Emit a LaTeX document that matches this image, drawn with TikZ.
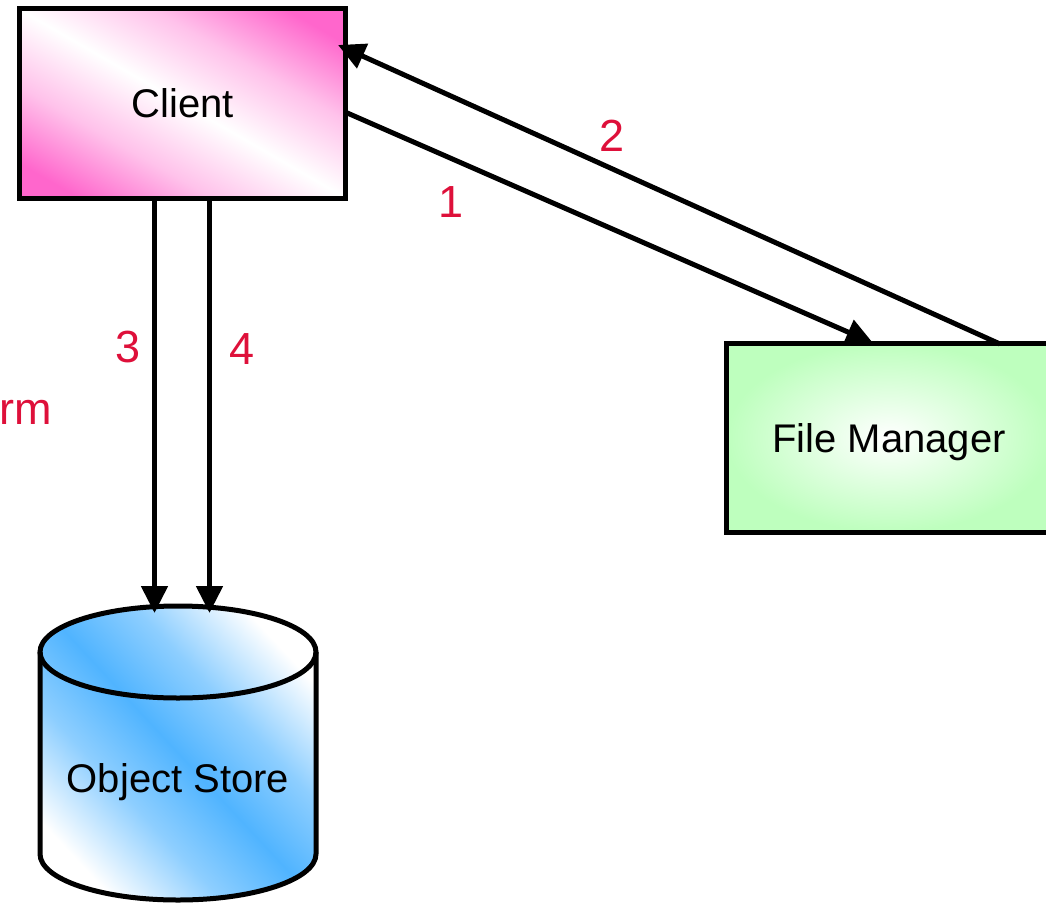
\documentclass[tikz,border=0pt]{standalone}
\usepackage{fontspec}
\setmainfont{Liberation Sans}
\usetikzlibrary{arrows.meta}

\definecolor{pinkc}{RGB}{255,102,204}
\definecolor{bluec}{RGB}{80,180,255}
\definecolor{greenc}{RGB}{190,255,190}
\definecolor{labelred}{RGB}{222,16,58}

% diagonal fills: pink corners with a white band, and the reverse in blue
\pgfdeclarehorizontalshading{pinkband}{100bp}{color(0bp)=(pinkc); color(22bp)=(pinkc); color(36bp)=(pinkc!40!white); color(50bp)=(white); color(64bp)=(pinkc!40!white); color(78bp)=(pinkc); color(100bp)=(pinkc)}
\pgfdeclarehorizontalshading{blueband}{100bp}{color(0bp)=(white); color(24bp)=(white); color(38bp)=(bluec!65!white); color(50bp)=(bluec); color(62bp)=(bluec!65!white); color(76bp)=(white); color(100bp)=(white)}

\tikzset{
  boxtext/.style={font=\fontsize{40}{48}\selectfont, text height=29pt, text depth=0pt, inner sep=0pt},
  clientbox/.style={boxtext, draw, line width=5pt, minimum width=326pt, minimum height=190pt,
    shading=pinkband, shading angle=60},
  fmbox/.style={boxtext, draw, line width=5pt, minimum width=326pt, minimum height=189pt,
    inner color=white, outer color=greenc},
  steplabel/.style={font=\fontsize{45}{54}\selectfont, text=labelred, anchor=base, inner sep=0pt},
  flow/.style={line width=5pt, -{Triangle[length=27pt, width=26pt]}},
}

\begin{document}
\begin{tikzpicture}[x=1pt, y=-1pt]
  \useasboundingbox (0,0) rectangle (1046,904);
  \clip (0,0) rectangle (1046,904);

  % the two boxes
  \node[clientbox] (client) at (182.5,103.5) {Client};
  \node[fmbox] (fm) at (889,437.5) {File Manager};

  % object store cylinder
  \path[shading=blueband, shading angle=43]
    (40,652) -- (40,854) arc[start angle=180, end angle=360, x radius=138pt, y radius=46pt]
    -- (316,652) arc[start angle=0, end angle=180, x radius=138pt, y radius=46pt] -- cycle;
  \draw[line width=5pt]
    (40,652) -- (40,854) arc[start angle=180, end angle=360, x radius=138pt, y radius=46pt]
    -- (316,652);
  \draw[line width=5pt] (178,652) ellipse[x radius=138pt, y radius=46pt];
  \node[boxtext] (store) at (178,777.5) {Object Store};

  % connector end points
  \coordinate (c1) at (345,112);
  \coordinate (f1) at (873,343);
  \coordinate (f2) at (1000,344);
  \coordinate (c2) at (338,45);
  \coordinate (c3) at (154.5,198);
  \coordinate (s3) at (154.5,613);
  \coordinate (c4) at (209.5,198);
  \coordinate (s4) at (209.5,613);

  \draw[flow] (c1) -- (f1);
  \draw[flow] (f2) -- (c2);
  \draw[flow] (c3) -- (s3);
  \draw[flow] (c4) -- (s4);

  % step numbers
  \node[steplabel] (l1) at (451,217) {1};
  \node[steplabel] (l2) at (612,152) {2};
  \node[steplabel] (l3) at (128,362) {3};
  \node[steplabel] (l4) at (242,364) {4};
  \node[steplabel, anchor=base east] (lrm) at (52,424) {rm};
\end{tikzpicture}
\end{document}
